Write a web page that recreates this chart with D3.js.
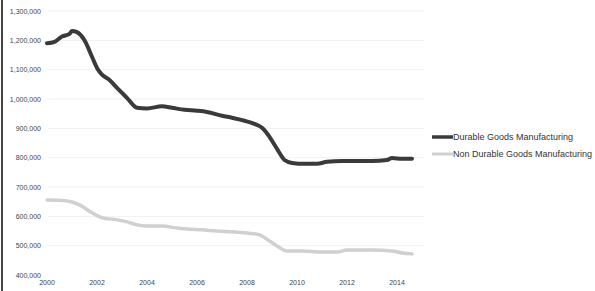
<!DOCTYPE html>
<html>
  <head>
    <script src="https://cdn.jsdelivr.net/npm/d3@7"></script>
    <style>
      body { margin: 0; background: #fff; }
      text { font-family: "Liberation Sans", Arial, sans-serif; }
    </style>
  </head>
  <body>
    <svg width="595" height="291" id="mainsvg"></svg>
    <script>
      const svg = d3.select("#mainsvg");

      // data
      const yearTicks = [2000, 2002, 2004, 2006, 2008, 2010, 2012, 2014];
      const valueTicks = [400000, 500000, 600000, 700000, 800000, 900000, 1000000, 1100000, 1200000, 1300000];
      const seriesNames = ["Durable Goods Manufacturing", "Non Durable Goods Manufacturing"];

      const durableYears = [2000.0, 2000.3, 2000.6, 2000.9, 2001.0, 2001.2, 2001.5, 2001.8, 2002.0, 2002.2, 2002.5, 2002.8,
        2003.2, 2003.6, 2004.0, 2004.6, 2005.0, 2005.5, 2006.0, 2006.4, 2007.0, 2007.4, 2007.9, 2008.3, 2008.6, 2008.9,
        2009.1, 2009.3, 2009.5, 2009.8, 2010.3, 2010.8, 2011.2, 2011.8, 2012.4, 2013.0, 2013.6, 2013.8, 2014.2, 2014.6];
      const durableValues = [1190000, 1195000, 1213000, 1222000, 1232000, 1228000, 1200000, 1144000, 1106000, 1083000, 1065000, 1038000,
        1004000, 970000, 968000, 975000, 970000, 963000, 960000, 956000, 943000, 936000, 926000, 915000, 902000, 871000,
        844000, 816000, 792000, 782000, 779000, 779000, 786000, 789000, 789000, 789000, 792000, 799000, 796000, 796000];

      const nonDurableYears = [2000.0, 2000.5, 2001.0, 2001.3, 2001.8, 2002.2, 2002.8, 2003.2, 2003.6, 2004.0, 2004.6, 2005.2,
        2005.6, 2006.2, 2006.8, 2007.5, 2008.0, 2008.5, 2008.9, 2009.2, 2009.6, 2010.2, 2011.0, 2011.6, 2012.0, 2013.0,
        2013.8, 2014.2, 2014.6];
      const nonDurableValues = [656000, 655000, 649000, 639000, 612000, 595000, 588000, 581000, 571000, 567000, 567000, 560000,
        557000, 554000, 550000, 547000, 543000, 537000, 516000, 499000, 482000, 482000, 478000, 478000, 485000, 485000,
        482000, 475000, 472000];

      // scales
      const x = d3.scaleLinear().domain([2000, 2014]).range([47, 397]);
      const y = d3.scaleLinear().domain([400000, 1300000]).range([275, 11]);

      // scan edge on the left
      svg.append("line")
        .attr("x1", 2).attr("x2", 2).attr("y1", 0).attr("y2", 291)
        .attr("stroke", "#444").attr("stroke-width", 2);

      // faint gridlines
      svg.append("g")
        .selectAll("line")
        .data(valueTicks.slice(1))
        .join("line")
        .attr("x1", 48).attr("x2", 425)
        .attr("y1", (d) => y(d)).attr("y2", (d) => y(d))
        .attr("stroke", "#f1f1f1").attr("stroke-width", 1);

      // y axis labels
      const fmt = d3.format(",");
      svg.append("g")
        .selectAll("text")
        .data(valueTicks)
        .join("text")
        .attr("x", 41)
        .attr("y", (d) => y(d) + 2.5)
        .attr("text-anchor", "end")
        .attr("font-size", 7)
        .attr("fill", "#444")
        .text((d) => fmt(d));

      // x axis labels
      svg.append("g")
        .selectAll("text")
        .data(yearTicks)
        .join("text")
        .attr("x", (d) => x(d))
        .attr("y", 285)
        .attr("text-anchor", "middle")
        .attr("font-size", 7)
        .attr("fill", "#444")
        .text((d) => d);

      const line = d3.line()
        .x((d) => x(d[0]))
        .y((d) => y(d[1]))
        .curve(d3.curveMonotoneX);

      const series = [
        { name: seriesNames[0], pts: d3.zip(durableYears, durableValues), color: "#3a3a3a", width: 4 },
        { name: seriesNames[1], pts: d3.zip(nonDurableYears, nonDurableValues), color: "#d0d0d0", width: 3.5 },
      ];

      svg.append("g")
        .selectAll("path")
        .data(series)
        .join("path")
        .attr("fill", "none")
        .attr("stroke", (d) => d.color)
        .attr("stroke-width", (d) => d.width)
        .attr("stroke-linejoin", "round")
        .attr("stroke-linecap", "round")
        .attr("d", (d) => line(d.pts));

      // legend
      const legend = svg.append("g")
        .selectAll("g")
        .data(series)
        .join("g")
        .attr("transform", (d, i) => `translate(432, ${137 + i * 17})`);

      legend.append("line")
        .attr("x1", 0).attr("x2", 21)
        .attr("stroke", (d) => d.color)
        .attr("stroke-width", (d) => d.width - 0.5);

      legend.append("text")
        .attr("x", 21)
        .attr("y", 3)
        .attr("font-size", 9)
        .attr("fill", "#333")
        .text((d) => d.name);
    </script>
  </body>
</html>
